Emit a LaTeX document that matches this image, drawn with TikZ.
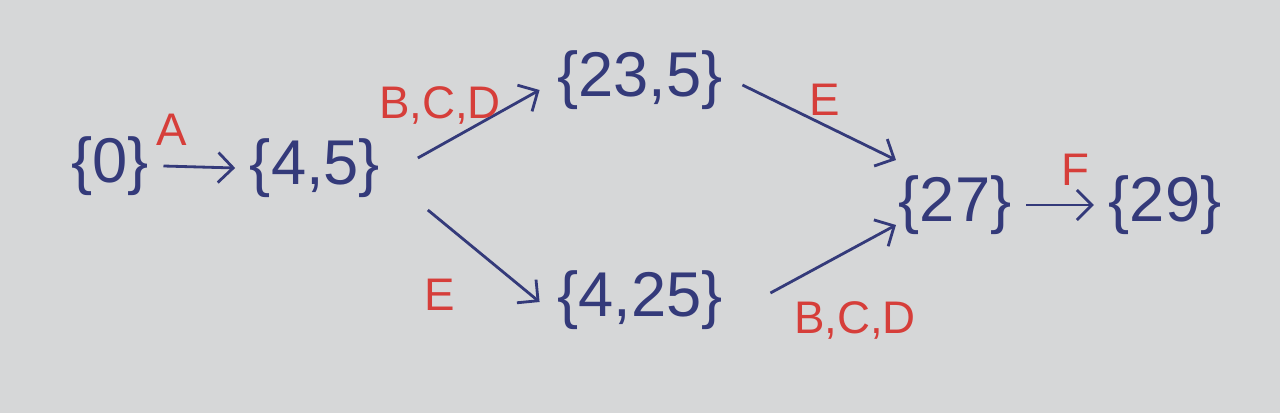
\documentclass[tikz,border=0pt]{standalone}
\usepackage{fontspec}
\setmainfont{Liberation Sans}
\usepackage{xcolor}
\definecolor{board-bg}{RGB}{214,215,216}
\definecolor{ink-blue}{RGB}{52,58,122}
\definecolor{ink-red}{RGB}{214,62,58}
\usetikzlibrary{positioning,arrows.meta}

\begin{document}
\begin{tikzpicture}[
  state/.style={
    font=\fontsize{18}{22}\selectfont,
    text=ink-blue,
    inner sep=2pt
  },
  trans/.style={
    font=\fontsize{13}{16}\selectfont,
    text=ink-red
  },
  edge/.style={
    -{Straight Barb[length=1.5mm,width=3mm]},
    line width=0.8pt,
    draw=ink-blue
  }
]

% Board
\fill[board-bg] (0,0) rectangle (12.8,-4.13);

% States
\node[state] (s0)  at (1.10,-1.66) {\{0\}};
\node[state] (s45) at (3.15,-1.68) {\{4,5\}};
\node[state] (s235) at (6.40,-0.80) {\{23,5\}};
\node[state] (s425) at (6.40,-3.00) {\{4,25\}};
\node[state] (s27) at (9.55,-2.05) {\{27\}};
\node[state] (s29) at (11.65,-2.05) {\{29\}};

% Transitions
\draw[edge] ([xshift=2pt]s0.east) -- ([xshift=-2pt]s45.west);
\draw[edge] ([shift={(0.3,0.1)}]s45.east) -- ([shift={(-0.1,-0.1)}]s235.west);
\draw[edge] ([shift={(0.4,-0.42)}]s45.east) -- ([shift={(-0.1,-0.02)}]s425.west);
\draw[edge] ([shift={(0.12,-0.05)}]s235.east) -- ([shift={(0.05,0.45)}]s27.west);
\draw[edge] ([shift={(0.4,0.07)}]s425.east) -- ([shift={(0.05,-0.2)}]s27.west);
\draw[edge] ([xshift=2pt]s27.east) -- ([xshift=-2pt]s29.west);

% Transition labels
\node[trans] (lA)  at (1.72,-1.30) {A};
\node[trans] (lbcd1) at (4.40,-1.05) {B,C,D};
\node[trans] (lE1) at (8.25,-1.00) {E};
\node[trans] (lE2) at (4.40,-2.95) {E};
\node[trans] (lbcd2) at (8.55,-3.20) {B,C,D};
\node[trans] (lF)  at (10.75,-1.70) {F};

\end{tikzpicture}
\end{document}
